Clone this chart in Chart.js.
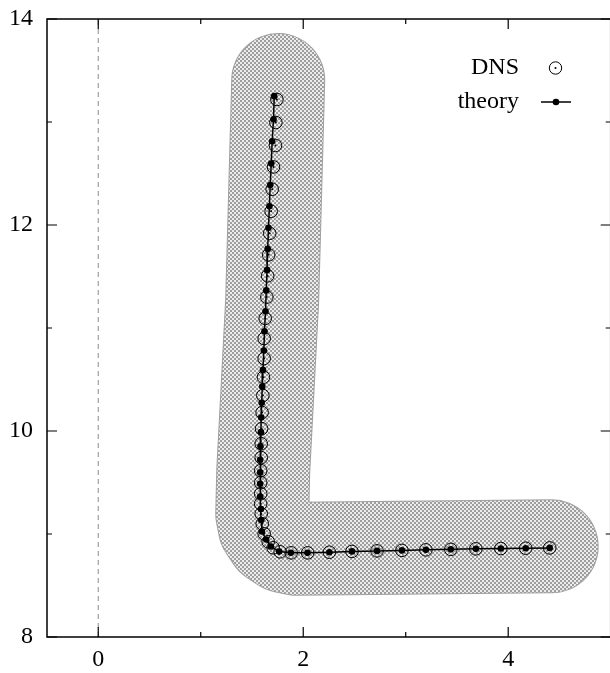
<!DOCTYPE html>
<html>
<head>
<meta charset="utf-8">
<script src="https://cdn.jsdelivr.net/npm/chart.js@4/dist/chart.umd.min.js"></script>
<style>
html,body{margin:0;padding:0;background:#fff;overflow:hidden;}
#wrap{width:618px;height:673px;}
</style>
</head>
<body>
<div id="wrap"><canvas id="c" width="618" height="673"></canvas></div>
<script>
// ---- data ----
const theoryX = [1.717,1.710,1.697,1.688,1.678,1.670,1.661,1.653,1.647,1.639,1.632,1.622,1.616,1.607,1.600,1.595,1.590,1.587,1.583,1.580,1.580,1.580,1.580,1.587,1.590,1.597,1.639,1.685,1.765,1.879,2.041,2.255,2.476,2.720,2.963,3.197,3.440,3.684,3.928,4.171,4.405];
const theoryY = [13.251,13.027,12.813,12.596,12.389,12.181,11.974,11.768,11.564,11.365,11.163,10.969,10.781,10.593,10.431,10.275,10.130,9.989,9.852,9.721,9.598,9.488,9.364,9.242,9.135,9.024,8.946,8.878,8.829,8.817,8.817,8.823,8.831,8.836,8.841,8.846,8.851,8.856,8.859,8.862,8.865];
const dnsX = [1.743,1.733,1.729,1.710,1.697,1.687,1.673,1.663,1.653,1.645,1.629,1.619,1.619,1.612,1.606,1.599,1.594,1.590,1.590,1.585,1.585,1.585,1.585,1.590,1.600,1.619,1.658,1.707,1.775,1.882,2.043,2.255,2.476,2.720,2.963,3.197,3.440,3.684,3.928,4.171,4.405];
const dnsY = [13.219,12.995,12.772,12.564,12.347,12.133,11.919,11.710,11.506,11.300,11.093,10.898,10.704,10.522,10.344,10.179,10.023,9.877,9.741,9.615,9.498,9.391,9.294,9.196,9.099,9.002,8.925,8.866,8.827,8.817,8.817,8.823,8.831,8.836,8.841,8.846,8.851,8.856,8.859,8.862,8.865];
// centre line of the grey swept-sphere band
const bandX = [1.756,1.697,1.610,1.600,1.626,1.700,1.810,1.941,4.424];
const bandY = [13.407,11.267,9.614,9.196,9.066,8.956,8.882,8.856,8.880];
const xTicks = [0,2,4];
const xMinor = [1,3];
const yTicks = [8,10,12,14];
const yMinor = [9,11,13];
const seriesNames = ['DNS','theory'];

const pts = (xs, ys) => xs.map((x,i)=>({x:x, y:ys[i]}));

// pattern for the band texture
function makePattern(){
  const p = document.createElement('canvas'); p.width = 4; p.height = 4;
  const g = p.getContext('2d');
  g.fillStyle = 'rgb(236,236,236)'; g.fillRect(0,0,4,4);
  g.fillStyle = 'rgb(158,158,158)';
  g.fillRect(0,0,2,2); g.fillRect(2,2,2,2);
  return g.createPattern(p,'repeat');
}
const FONT = "'Liberation Serif', 'Times New Roman', serif";

const framePlugin = {
  id: 'frame',
  afterDatasetsDraw(chart){
    const ctx = chart.ctx, a = chart.chartArea;
    const xs = chart.scales.x, ys = chart.scales.y;
    ctx.save();
    ctx.strokeStyle = '#000'; ctx.lineWidth = 1.5;
    ctx.beginPath();
    ctx.rect(a.left, a.top, a.right - a.left, a.bottom - a.top);
    ctx.stroke();
    ctx.lineWidth = 1.2;
    ctx.beginPath();
    const tick = (v, len, horiz) => {
      if (horiz){
        const p = xs.getPixelForValue(v);
        ctx.moveTo(p, a.bottom); ctx.lineTo(p, a.bottom - len);
        ctx.moveTo(p, a.top); ctx.lineTo(p, a.top + len);
      } else {
        const p = ys.getPixelForValue(v);
        ctx.moveTo(a.left, p); ctx.lineTo(a.left + len, p);
        ctx.moveTo(a.right, p); ctx.lineTo(a.right - len, p);
      }
    };
    xTicks.forEach(v=>tick(v,10,true));
    xMinor.forEach(v=>tick(v,5,true));
    yTicks.forEach(v=>tick(v,10,false));
    yMinor.forEach(v=>tick(v,5,false));
    ctx.stroke();
    // key
    ctx.font = '24px ' + FONT;
    ctx.fillStyle = '#000';
    ctx.textAlign = 'right';
    ctx.textBaseline = 'alphabetic';
    ctx.fillText(seriesNames[0], 519, 74);
    ctx.fillText(seriesNames[1], 519, 108);
    ctx.lineWidth = 1;
    ctx.beginPath(); ctx.arc(555.5,68,6.2,0,Math.PI*2); ctx.stroke();
    ctx.beginPath(); ctx.arc(555.5,68,1,0,Math.PI*2); ctx.fill();
    ctx.lineWidth = 1.5;
    ctx.beginPath(); ctx.moveTo(541,102); ctx.lineTo(571,102); ctx.stroke();
    ctx.beginPath(); ctx.arc(556,102,3.3,0,Math.PI*2); ctx.fill();
    ctx.restore();
  }
};

function zeroPad(s){ s.paddingTop = 0; s.paddingBottom = 0; s.paddingLeft = 0; s.paddingRight = 0; }

new Chart(document.getElementById('c'), {
  type: 'scatter',
  data: {
    datasets: [
      { // band outline
        type:'line', data: pts(bandX, bandY), showLine:true,
        borderColor:'rgb(160,160,160)', borderWidth:94,
        borderCapStyle:'round', borderJoinStyle:'round',
        pointRadius:0, fill:false, order:10
      },
      { // band texture
        type:'line', data: pts(bandX, bandY), showLine:true,
        borderColor: makePattern(), borderWidth:92,
        borderCapStyle:'round', borderJoinStyle:'round',
        pointRadius:0, fill:false, order:9
      },
      { // x = 0 reference line
        type:'line', data:[{x:0,y:8},{x:0,y:14}], showLine:true,
        borderColor:'rgb(140,140,140)', borderWidth:1, borderDash:[5,4],
        pointRadius:0, order:8
      },
      {
        label: seriesNames[1], type:'line', data: pts(theoryX, theoryY), showLine:true,
        borderColor:'#000', borderWidth:1.5, tension:0,
        pointRadius:3.3, pointBackgroundColor:'#000', pointBorderWidth:0, order:3
      },
      {
        label: seriesNames[0], data: pts(dnsX, dnsY), showLine:false,
        pointStyle:'circle', pointRadius:6.3, pointBorderWidth:1,
        pointBorderColor:'#000', pointBackgroundColor:'rgba(0,0,0,0)', order:2
      },
      { // centre dot of the DNS marker
        data: pts(dnsX, dnsY), showLine:false,
        pointStyle:'circle', pointRadius:1, pointBorderWidth:0,
        pointBackgroundColor:'#000', order:1
      }
    ]
  },
  options: {
    responsive:false, animation:false, devicePixelRatio:1,
    layout:{ padding:{ top:19, right:0, left:0, bottom:0 } },
    plugins:{ legend:{display:false}, tooltip:{enabled:false} },
    scales:{
      x:{
        type:'linear', min:-0.5, max:5,
        afterBuildTicks(s){ s.ticks = xTicks.map(v=>({value:v})); },
        afterFit(s){ s.height = 36; zeroPad(s); },
        grid:{ display:false, drawTicks:false }, border:{ display:false },
        ticks:{ font:{ family:FONT, size:24 }, color:'#000', padding:8 }
      },
      y:{
        type:'linear', min:8, max:14,
        afterBuildTicks(s){ s.ticks = yTicks.map(v=>({value:v})); },
        afterFit(s){ s.width = 47; zeroPad(s); },
        grid:{ display:false, drawTicks:false }, border:{ display:false },
        ticks:{ font:{ family:FONT, size:24 }, color:'#000', padding:14 }
      }
    }
  },
  plugins:[framePlugin]
});
</script>
</body>
</html>
